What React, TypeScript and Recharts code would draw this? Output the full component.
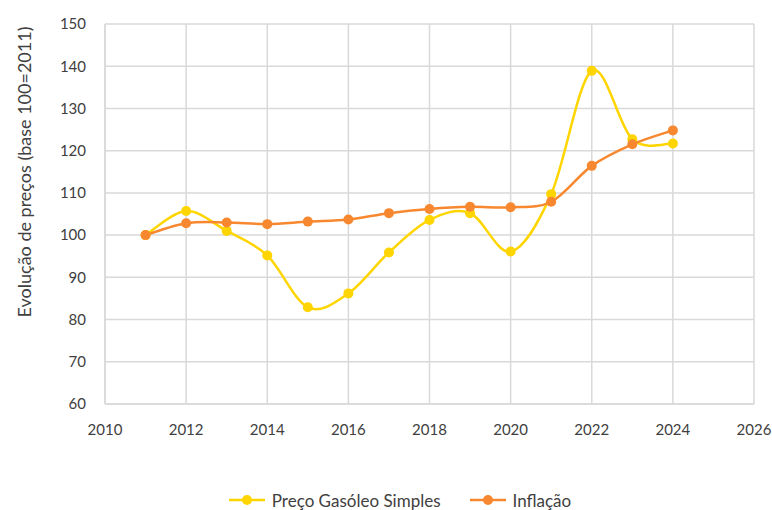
import { CartesianGrid, Label, Legend, Line, LineChart, XAxis, YAxis } from "recharts";

const years = [2011, 2012, 2013, 2014, 2015, 2016, 2017, 2018, 2019, 2020, 2021, 2022, 2023, 2024];
const gasoleo = [100, 105.7, 101, 95.2, 82.9, 86.2, 95.9, 103.6, 105.2, 96.1, 109.7, 138.9, 122.7, 121.7];
const inflacao = [100, 102.8, 103, 102.6, 103.2, 103.7, 105.2, 106.2, 106.7, 106.6, 107.9, 116.4, 121.5, 124.8];
const xTicks = [2010, 2012, 2014, 2016, 2018, 2020, 2022, 2024, 2026];
const yTicks = [60, 70, 80, 90, 100, 110, 120, 130, 140, 150];

const series = [
  { key: "gasoleo", name: "Preço Gasóleo Simples", color: "#FFD500" },
  { key: "inflacao", name: "Inflação", color: "#F7882F" }
];

const data = years.map((year, i) => ({ year, gasoleo: gasoleo[i], inflacao: inflacao[i] }));

const font = "Lato, 'Open Sans', sans-serif";
const tick = { fill: "#404040", fontSize: 15, fontFamily: font };
const gridColor = "#d9d9d9";

// excel-like smoothing (catmull-rom)
function smooth(context: any) {
  let pts: number[][] = [];
  return {
    areaStart() {},
    areaEnd() {},
    lineStart() {
      pts = [];
    },
    lineEnd() {
      if (!pts.length) return;
      context.moveTo(pts[0][0], pts[0][1]);
      for (let i = 0; i < pts.length - 1; i++) {
        const p0 = pts[i - 1] || pts[i];
        const p1 = pts[i];
        const p2 = pts[i + 1];
        const p3 = pts[i + 2] || p2;
        context.bezierCurveTo(
          p1[0] + (p2[0] - p0[0]) / 6,
          p1[1] + (p2[1] - p0[1]) / 6,
          p2[0] - (p3[0] - p1[0]) / 6,
          p2[1] - (p3[1] - p1[1]) / 6,
          p2[0],
          p2[1]
        );
      }
    },
    point(x: number, y: number) {
      pts.push([+x, +y]);
    }
  };
}

function LegendContent() {
  return (
    <div style={{ display: "flex", justifyContent: "center", paddingLeft: 28, height: 20, alignItems: "center", fontFamily: font, fontSize: 17, color: "#404040" }}>
      {series.map((s, i) => (
        <div key={s.key} style={{ display: "flex", alignItems: "center", marginLeft: i ? 29 : 0 }}>
          <svg width={36} height={12} style={{ marginRight: 7 }}>
            <line x1={0} y1={6} x2={36} y2={6} stroke={s.color} strokeWidth={2.5} />
            <circle cx={18} cy={6} r={5} fill={s.color} />
          </svg>
          <span>{s.name}</span>
        </div>
      ))}
    </div>
  );
}

export default function App() {
  return (
    <div style={{ position: "absolute", left: 0, top: 0, background: "#fff" }}>
      <LineChart width={772} height={510} data={data} margin={{ top: 24, right: 18, bottom: 0, left: 0 }}>
        <CartesianGrid stroke={gridColor} strokeWidth={1.5} />
        <XAxis
          type="number"
          dataKey="year"
          domain={[2010, 2026]}
          ticks={xTicks}
          tick={tick}
          tickSize={0}
          tickMargin={20}
          height={86}
          axisLine={{ stroke: gridColor, strokeWidth: 1.5 }}
        />
        <YAxis
          domain={[60, 150]}
          ticks={yTicks}
          tick={tick}
          tickSize={0}
          tickMargin={19}
          width={105}
          axisLine={{ stroke: gridColor, strokeWidth: 1.5 }}
        >
          <Label
            content={() => (
              <text transform="translate(24,172) rotate(-90)" textAnchor="middle" dominantBaseline="central" fill="#404040" fontSize={18} fontFamily={font}>
                Evolução de preços (base 100=2011)
              </text>
            )}
          />
        </YAxis>
        <Legend verticalAlign="bottom" content={<LegendContent />} wrapperStyle={{ bottom: 0, left: 0, width: 772 }} />
        {series.map((s) => (
          <Line
            key={s.key}
            dataKey={s.key}
            name={s.name}
            type={smooth as any}
            stroke={s.color}
            strokeWidth={2.5}
            dot={{ r: 5, fill: s.color, stroke: s.color, strokeWidth: 0 }}
            activeDot={false}
            isAnimationActive={false}
          />
        ))}
      </LineChart>
    </div>
  );
}
